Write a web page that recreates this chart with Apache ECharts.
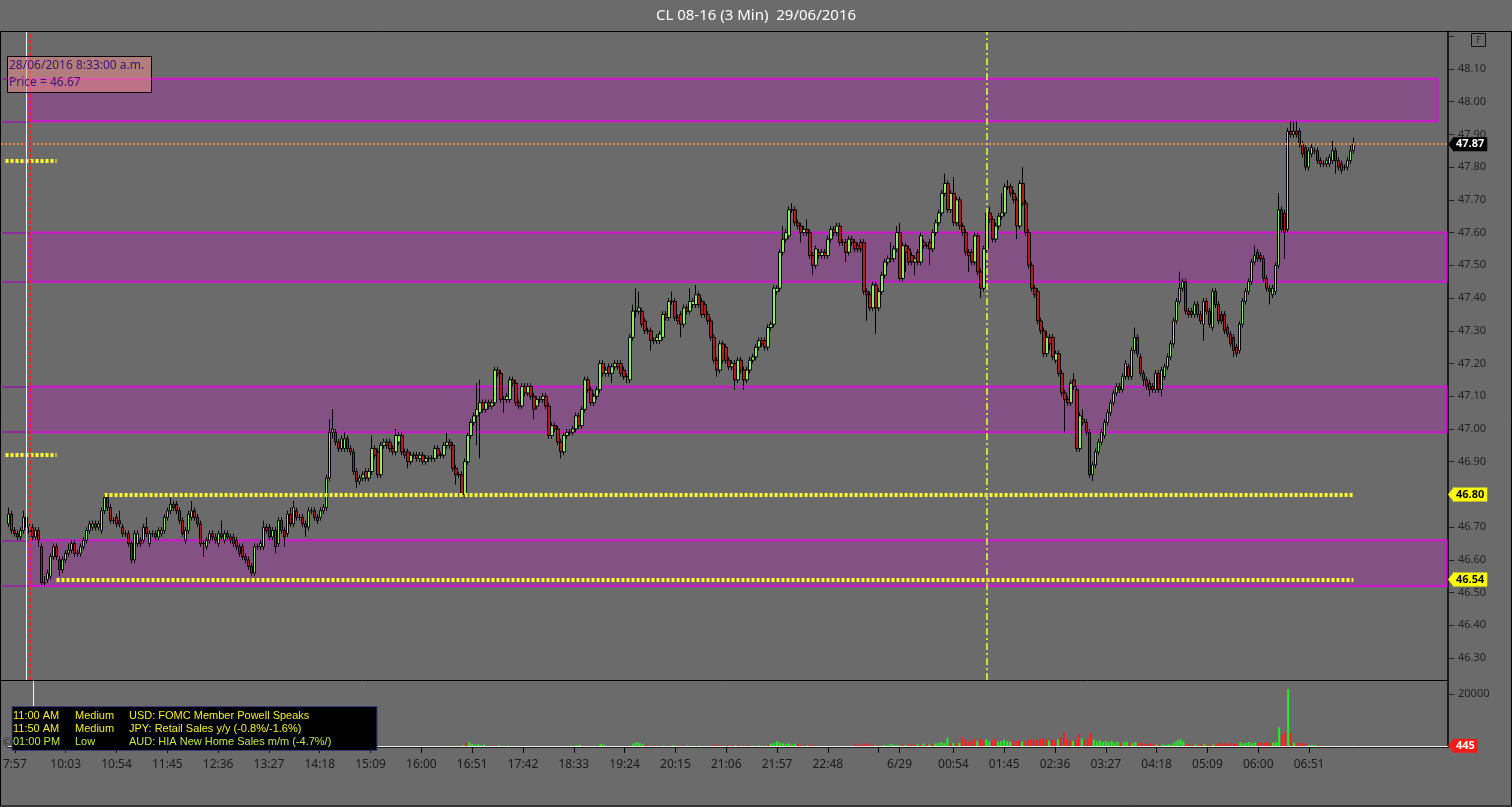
<!DOCTYPE html>
<html><head><meta charset="utf-8">
<script src="https://cdn.jsdelivr.net/npm/echarts@6/dist/echarts.min.js"></script>
<style>html,body{margin:0;padding:0;background:#6b6b6b;}#c{width:1512px;height:807px;}</style>
</head><body><div id="c"></div>
<script>
const TITLE = 'CL 08-16 (3 Min)  29/06/2016';
const CAT_COUNT = 482;
const DATA_START = 2;
// [open, close, low, high] for bars 2..450
const ohlc = [
[46.71,46.74,46.70,46.76],[46.74,46.69,46.68,46.75],[46.69,46.68,46.67,46.70],[46.68,46.67,46.66,46.69],[46.67,46.69,46.66,46.70],
[46.69,46.73,46.68,46.75],[46.73,46.70,46.69,46.74],[46.70,46.68,46.67,46.71],[46.70,46.67,46.66,46.71],[46.67,46.69,46.66,46.70],
[46.69,46.66,46.64,46.70],[46.64,46.53,46.52,46.65],[46.53,46.53,46.52,46.55],[46.54,46.56,46.53,46.57],[46.55,46.61,46.54,46.62],
[46.61,46.64,46.60,46.65],[46.64,46.61,46.60,46.65],[46.60,46.57,46.55,46.61],[46.57,46.60,46.56,46.61],[46.60,46.62,46.59,46.63],
[46.62,46.63,46.61,46.65],[46.63,46.65,46.62,46.66],[46.65,46.62,46.61,46.66],[46.62,46.62,46.61,46.63],[46.62,46.64,46.61,46.65],
[46.64,46.66,46.63,46.67],[46.66,46.69,46.65,46.70],[46.69,46.71,46.68,46.72],[46.70,46.71,46.69,46.72],[46.71,46.70,46.69,46.72],
[46.70,46.71,46.69,46.72],[46.69,46.75,46.68,46.76],[46.75,46.79,46.74,46.80],[46.79,46.76,46.75,46.80],[46.76,46.72,46.71,46.77],
[46.72,46.72,46.71,46.73],[46.73,46.71,46.70,46.74],[46.72,46.71,46.70,46.75],[46.70,46.68,46.67,46.71],[46.68,46.68,46.67,46.69],
[46.68,46.65,46.64,46.69],[46.65,46.60,46.59,46.66],[46.60,46.68,46.59,46.69],[46.65,46.68,46.64,46.69],[46.66,46.65,46.64,46.67],
[46.66,46.70,46.65,46.71],[46.70,46.68,46.67,46.73],[46.65,46.68,46.64,46.69],[46.68,46.68,46.67,46.69],[46.68,46.67,46.66,46.69],
[46.67,46.69,46.66,46.70],[46.68,46.69,46.67,46.70],[46.69,46.73,46.68,46.74],[46.73,46.75,46.72,46.76],[46.75,46.77,46.74,46.79],
[46.77,46.76,46.75,46.78],[46.77,46.75,46.74,46.78],[46.75,46.72,46.71,46.76],[46.72,46.68,46.67,46.73],[46.66,46.69,46.65,46.70],
[46.69,46.74,46.68,46.75],[46.73,46.75,46.72,46.78],[46.75,46.73,46.72,46.76],[46.73,46.71,46.70,46.74],[46.71,46.65,46.64,46.72],
[46.65,46.65,46.61,46.66],[46.64,46.66,46.63,46.67],[46.66,46.68,46.65,46.69],[46.68,46.67,46.66,46.69],[46.67,46.66,46.65,46.68],
[46.65,46.68,46.64,46.69],[46.68,46.67,46.66,46.72],[46.66,46.68,46.65,46.69],[46.68,46.67,46.66,46.69],[46.67,46.66,46.65,46.68],
[46.67,46.65,46.64,46.68],[46.66,46.64,46.63,46.67],[46.64,46.62,46.61,46.65],[46.64,46.61,46.60,46.65],[46.61,46.60,46.59,46.62],
[46.60,46.58,46.57,46.61],[46.58,46.56,46.55,46.59],[46.56,46.64,46.55,46.65],[46.64,46.64,46.63,46.65],[46.64,46.65,46.63,46.66],
[46.64,46.70,46.63,46.72],[46.70,46.69,46.68,46.71],[46.70,46.67,46.66,46.71],[46.67,46.69,46.66,46.70],[46.69,46.64,46.62,46.70],
[46.65,46.72,46.64,46.73],[46.72,46.69,46.68,46.73],[46.69,46.67,46.64,46.70],[46.68,46.74,46.67,46.75],[46.74,46.71,46.70,46.76],
[46.71,46.76,46.70,46.78],[46.75,46.73,46.72,46.76],[46.73,46.73,46.72,46.74],[46.73,46.71,46.70,46.74],[46.71,46.70,46.67,46.72],
[46.70,46.75,46.69,46.76],[46.75,46.75,46.74,46.76],[46.75,46.73,46.72,46.76],[46.73,46.72,46.71,46.74],[46.73,46.75,46.72,46.76],
[46.75,46.76,46.74,46.77],[46.76,46.85,46.75,46.86],[46.85,46.99,46.84,47.03],[46.99,47.00,46.97,47.06],[46.99,46.96,46.95,47.00],
[46.96,46.94,46.93,46.97],[46.94,46.97,46.93,46.98],[46.94,46.97,46.93,46.99],[46.97,46.94,46.93,46.98],[46.94,46.93,46.92,46.95],
[46.93,46.87,46.86,46.94],[46.87,46.84,46.82,46.88],[46.84,46.85,46.83,46.86],[46.85,46.86,46.84,46.87],[46.87,46.85,46.84,46.88],
[46.85,46.87,46.84,46.88],[46.87,46.94,46.86,46.98],[46.94,46.92,46.91,46.95],[46.93,46.86,46.85,46.94],[46.86,46.95,46.85,46.96],
[46.95,46.96,46.94,46.97],[46.96,46.95,46.94,46.97],[46.96,46.94,46.93,46.97],[46.94,46.93,46.92,46.95],[46.93,46.98,46.92,47.00],
[46.96,46.98,46.95,46.99],[46.98,46.93,46.92,46.99],[46.93,46.92,46.91,46.94],[46.93,46.90,46.88,46.94],[46.90,46.92,46.89,46.93],
[46.92,46.92,46.91,46.93],[46.92,46.91,46.90,46.93],[46.91,46.92,46.90,46.93],[46.92,46.90,46.89,46.93],[46.90,46.91,46.89,46.92],
[46.91,46.91,46.90,46.92],[46.91,46.91,46.90,46.92],[46.91,46.94,46.90,46.95],[46.94,46.92,46.91,46.95],[46.92,46.92,46.91,46.93],
[46.92,46.95,46.91,46.96],[46.95,46.96,46.94,46.99],[46.96,46.95,46.94,46.97],[46.95,46.88,46.87,46.96],[46.88,46.86,46.83,46.89],
[46.86,46.86,46.85,46.87],[46.86,46.80,46.79,46.87],[46.80,46.90,46.79,46.91],[46.90,46.98,46.89,46.99],[46.98,47.02,46.97,47.03],
[47.02,47.04,47.01,47.05],[47.04,47.06,46.95,47.14],[47.05,47.08,46.91,47.15],[47.08,47.06,47.05,47.09],[47.06,47.08,47.05,47.09],
[47.08,47.07,47.06,47.09],[47.07,47.08,47.06,47.09],[47.08,47.18,47.07,47.19],[47.18,47.17,47.16,47.19],[47.17,47.09,47.08,47.18],
[47.09,47.09,47.05,47.10],[47.09,47.10,47.08,47.11],[47.09,47.15,47.08,47.16],[47.15,47.14,47.13,47.16],[47.14,47.08,47.07,47.15],
[47.08,47.07,47.06,47.09],[47.07,47.13,47.06,47.14],[47.13,47.11,47.10,47.14],[47.11,47.13,47.10,47.14],[47.13,47.10,47.09,47.14],
[47.10,47.06,47.03,47.11],[47.07,47.09,47.06,47.10],[47.09,47.09,47.08,47.10],[47.09,47.10,47.08,47.11],[47.10,47.07,47.06,47.11],
[47.07,46.98,46.97,47.08],[46.98,47.01,46.97,47.02],[47.01,47.00,46.99,47.02],[47.00,46.96,46.95,47.01],[46.96,46.93,46.91,46.97],
[46.93,46.98,46.92,46.99],[46.98,46.99,46.97,47.00],[46.99,46.99,46.98,47.00],[46.99,47.00,46.98,47.01],[47.00,47.04,46.99,47.05],
[47.04,47.01,47.00,47.05],[47.01,47.06,47.00,47.07],[47.06,47.15,47.05,47.16],[47.15,47.12,47.11,47.16],[47.12,47.08,47.07,47.13],
[47.08,47.10,47.07,47.11],[47.10,47.12,47.09,47.13],[47.12,47.20,47.11,47.21],[47.20,47.17,47.16,47.21],[47.17,47.18,47.16,47.19],
[47.19,47.17,47.16,47.20],[47.17,47.19,47.14,47.20],[47.19,47.20,47.18,47.21],[47.20,47.19,47.18,47.21],[47.20,47.17,47.16,47.21],
[47.18,47.16,47.15,47.19],[47.16,47.16,47.14,47.17],[47.15,47.28,47.14,47.29],[47.28,47.36,47.27,47.38],[47.36,47.36,47.34,47.43],
[47.36,47.37,47.35,47.42],[47.36,47.32,47.31,47.37],[47.33,47.30,47.29,47.34],[47.30,47.30,47.29,47.31],[47.30,47.27,47.24,47.31],
[47.27,47.27,47.26,47.28],[47.27,47.28,47.26,47.29],[47.27,47.29,47.26,47.30],[47.28,47.35,47.27,47.36],[47.35,47.34,47.33,47.36],
[47.34,47.39,47.33,47.40],[47.39,47.39,47.38,47.42],[47.39,47.34,47.33,47.40],[47.34,47.33,47.32,47.35],[47.35,47.32,47.28,47.36],
[47.32,47.37,47.31,47.38],[47.37,47.36,47.35,47.38],[47.36,47.39,47.35,47.43],[47.38,47.39,47.37,47.40],[47.38,47.41,47.37,47.44],
[47.41,47.38,47.37,47.42],[47.39,47.35,47.34,47.40],[47.38,47.35,47.34,47.39],[47.35,47.33,47.32,47.36],[47.33,47.28,47.27,47.34],
[47.28,47.21,47.20,47.29],[47.21,47.18,47.16,47.22],[47.18,47.26,47.17,47.27],[47.26,47.21,47.20,47.27],[47.25,47.21,47.20,47.26],
[47.21,47.19,47.18,47.22],[47.19,47.20,47.18,47.21],[47.20,47.15,47.12,47.21],[47.15,47.21,47.14,47.22],[47.21,47.18,47.17,47.22],
[47.18,47.15,47.12,47.19],[47.15,47.18,47.14,47.19],[47.18,47.21,47.17,47.22],[47.21,47.22,47.20,47.23],[47.22,47.25,47.21,47.26],
[47.25,47.27,47.24,47.28],[47.27,47.26,47.25,47.28],[47.27,47.25,47.24,47.28],[47.25,47.31,47.24,47.32],[47.31,47.32,47.30,47.33],
[47.32,47.43,47.31,47.44],[47.42,47.43,47.41,47.44],[47.43,47.54,47.42,47.55],[47.54,47.58,47.53,47.62],[47.58,47.60,47.57,47.61],
[47.59,47.67,47.58,47.68],[47.67,47.67,47.66,47.69],[47.67,47.63,47.62,47.68],[47.63,47.62,47.61,47.64],[47.62,47.60,47.57,47.63],
[47.60,47.61,47.59,47.62],[47.61,47.60,47.59,47.64],[47.60,47.53,47.52,47.61],[47.53,47.50,47.47,47.54],[47.50,47.55,47.49,47.56],
[47.54,47.53,47.52,47.55],[47.53,47.54,47.52,47.55],[47.54,47.53,47.52,47.55],[47.53,47.58,47.52,47.59],[47.58,47.61,47.57,47.62],
[47.61,47.60,47.59,47.62],[47.60,47.62,47.59,47.63],[47.62,47.57,47.56,47.63],[47.57,47.57,47.56,47.58],[47.57,47.54,47.51,47.58],
[47.54,47.58,47.53,47.59],[47.58,47.57,47.56,47.59],[47.57,47.55,47.54,47.58],[47.56,47.55,47.54,47.57],[47.57,47.55,47.54,47.58],
[47.57,47.42,47.41,47.58],[47.42,47.41,47.33,47.43],[47.41,47.37,47.36,47.42],[47.37,47.44,47.36,47.45],[47.44,47.37,47.29,47.45],
[47.37,47.42,47.36,47.43],[47.42,47.47,47.41,47.48],[47.47,47.51,47.46,47.52],[47.51,47.52,47.50,47.53],[47.52,47.52,47.51,47.57],
[47.52,47.55,47.51,47.56],[47.55,47.60,47.54,47.62],[47.60,47.46,47.45,47.63],[47.46,47.56,47.45,47.57],[47.56,47.54,47.48,47.57],
[47.55,47.51,47.50,47.56],[47.53,47.51,47.50,47.54],[47.51,47.52,47.47,47.53],[47.54,47.51,47.50,47.55],[47.51,47.59,47.50,47.60],
[47.57,47.56,47.55,47.58],[47.56,47.56,47.55,47.57],[47.57,47.55,47.50,47.58],[47.55,47.60,47.54,47.61],[47.60,47.63,47.59,47.64],
[47.63,47.66,47.62,47.67],[47.66,47.72,47.65,47.73],[47.72,47.75,47.71,47.78],[47.75,47.67,47.66,47.76],[47.67,47.72,47.66,47.73],
[47.72,47.63,47.62,47.77],[47.63,47.70,47.62,47.71],[47.70,47.62,47.61,47.71],[47.62,47.60,47.59,47.63],[47.60,47.54,47.53,47.61],
[47.54,47.53,47.48,47.55],[47.54,47.51,47.50,47.55],[47.51,47.59,47.50,47.60],[47.59,47.48,47.47,47.60],[47.48,47.43,47.40,47.49],
[47.43,47.55,47.42,47.56],[47.55,47.66,47.54,47.67],[47.66,47.64,47.63,47.68],[47.64,47.58,47.57,47.65],[47.58,47.62,47.57,47.63],
[47.62,47.65,47.61,47.66],[47.65,47.66,47.64,47.72],[47.66,47.74,47.65,47.75],[47.74,47.74,47.73,47.76],[47.74,47.72,47.71,47.75],
[47.72,47.70,47.69,47.73],[47.70,47.62,47.58,47.71],[47.62,47.75,47.61,47.76],[47.75,47.69,47.68,47.80],[47.69,47.60,47.59,47.70],
[47.60,47.50,47.49,47.61],[47.50,47.43,47.42,47.51],[47.43,47.41,47.40,47.44],[47.42,47.33,47.32,47.43],[47.33,47.30,47.29,47.34],
[47.30,47.23,47.22,47.31],[47.23,47.28,47.22,47.30],[47.28,47.26,47.24,47.29],[47.28,47.22,47.21,47.29],[47.21,47.23,47.20,47.24],
[47.23,47.17,47.16,47.24],[47.17,47.11,47.10,47.18],[47.11,47.09,46.99,47.12],[47.09,47.08,47.07,47.10],[47.08,47.14,47.07,47.15],
[47.15,47.13,47.12,47.17],[47.12,46.94,46.93,47.13],[46.94,47.04,46.93,47.05],[47.03,47.02,47.01,47.06],[47.02,46.99,46.98,47.03],
[46.99,46.86,46.85,47.00],[46.86,46.89,46.84,46.90],[46.89,46.93,46.88,46.94],[46.93,46.96,46.92,46.97],[46.96,46.99,46.95,47.00],
[46.98,47.02,46.97,47.03],[47.02,47.05,47.01,47.06],[47.05,47.08,47.04,47.09],[47.08,47.11,47.07,47.12],[47.11,47.13,47.10,47.14],
[47.13,47.12,47.11,47.14],[47.12,47.16,47.11,47.17],[47.16,47.20,47.15,47.21],[47.19,47.16,47.15,47.20],[47.16,47.24,47.15,47.25],
[47.24,47.28,47.23,47.31],[47.28,47.23,47.22,47.29],[47.22,47.17,47.16,47.23],[47.17,47.15,47.13,47.18],[47.15,47.13,47.12,47.16],
[47.14,47.12,47.10,47.15],[47.13,47.12,47.11,47.14],[47.12,47.17,47.11,47.18],[47.17,47.12,47.11,47.18],[47.12,47.18,47.10,47.19],
[47.16,47.19,47.15,47.20],[47.19,47.22,47.18,47.23],[47.22,47.26,47.21,47.27],[47.26,47.33,47.25,47.34],[47.33,47.39,47.32,47.40],
[47.39,47.43,47.38,47.48],[47.43,47.45,47.42,47.46],[47.45,47.36,47.35,47.46],[47.36,47.35,47.34,47.37],[47.36,47.35,47.34,47.37],
[47.35,47.38,47.34,47.39],[47.38,47.35,47.34,47.39],[47.35,47.33,47.32,47.36],[47.32,47.39,47.27,47.40],[47.39,47.36,47.35,47.40],
[47.36,47.32,47.31,47.37],[47.31,47.42,47.30,47.43],[47.42,47.38,47.37,47.43],[47.38,47.33,47.32,47.39],[47.35,47.33,47.32,47.36],
[47.35,47.30,47.29,47.36],[47.31,47.29,47.28,47.32],[47.29,47.26,47.25,47.30],[47.28,47.24,47.22,47.29],[47.25,47.23,47.22,47.26],
[47.24,47.32,47.23,47.33],[47.32,47.39,47.31,47.40],[47.39,47.42,47.38,47.43],[47.42,47.45,47.41,47.46],[47.45,47.51,47.44,47.52],
[47.51,47.53,47.50,47.56],[47.54,47.52,47.51,47.55],[47.53,47.52,47.51,47.54],[47.52,47.46,47.45,47.53],[47.46,47.43,47.42,47.47],
[47.43,47.42,47.38,47.44],[47.41,47.43,47.40,47.44],[47.42,47.50,47.41,47.51],[47.50,47.67,47.49,47.72],[47.67,47.61,47.60,47.68],
[47.66,47.60,47.52,47.67],[47.61,47.91,47.60,47.92],[47.91,47.90,47.89,47.94],[47.90,47.91,47.89,47.94],[47.91,47.90,47.89,47.94],
[47.91,47.87,47.86,47.92],[47.87,47.84,47.83,47.88],[47.86,47.80,47.79,47.87],[47.80,47.85,47.79,47.86],[47.84,47.86,47.83,47.87],
[47.85,47.85,47.84,47.86],[47.85,47.82,47.81,47.86],[47.82,47.81,47.80,47.83],[47.81,47.81,47.80,47.82],[47.81,47.82,47.80,47.83],
[47.81,47.83,47.80,47.84],[47.82,47.85,47.81,47.88],[47.85,47.82,47.78,47.86],[47.82,47.80,47.79,47.83],[47.81,47.79,47.78,47.82],
[47.80,47.80,47.79,47.81],[47.80,47.82,47.79,47.83],[47.82,47.85,47.81,47.87],[47.85,47.87,47.84,47.89]
];
// volumes for bars 152..450
const VOL_START = 152;
const volumes = [
760,1500,1900,1200,800,1100,600,900,500,400,
600,300,700,400,300,500,300,200,400,300,
200,300,200,400,200,300,200,300,400,200,
300,200,400,300,200,300,500,400,700,800,
600,300,400,300,200,400,1100,900,400,300,
350,200,300,350,200,300,400,1300,1900,1600,
1100,700,600,500,700,400,300,500,400,600,
700,500,600,400,500,600,300,400,300,500,
400,300,300,500,700,800,700,300,200,300,
750,600,800,400,300,700,400,500,400,600,
500,400,700,1200,1500,2200,1700,1400,1100,1500,
900,1200,1000,800,700,600,900,700,600,300,
400,200,300,200,250,200,300,200,250,200,
300,900,1300,800,1100,1500,900,800,600,700,
500,700,600,1100,900,700,600,1000,800,1100,
900,800,1000,900,1200,800,900,1100,1200,1600,
1900,1400,3400,1200,1500,1300,1500,3800,2800,1900,
2400,3000,2200,3200,2600,2900,2100,2500,3100,2000,
2300,2700,2200,2000,2600,2200,2500,2000,2300,2800,
3000,2400,2700,3100,3300,2900,2300,2700,2500,2900,
3600,5600,3100,2400,2200,2800,4900,3300,2600,3400,
5300,2900,2100,2400,2000,2300,1900,2200,1700,2000,
1500,1800,2100,1600,1400,1900,1700,1500,1200,1100,
1400,1200,900,800,1000,750,1100,900,1900,2500,
3000,2200,1100,900,800,1000,750,900,1100,800,
900,1000,1200,1500,1100,1700,1300,1600,1200,1400,
1800,1300,1500,1900,1400,1700,1500,1800,1600,1900,
1500,1700,1800,7500,4500,5600,21900,5300,1500,1400,
1600,1500,1300,800,750,700,600,300,200,250,
300,400,300,200,250,300,350,400,445
];
const priceTicks = [46.3,46.4,46.5,46.6,46.7,46.8,46.9,47.0,47.1,47.2,47.3,47.4,47.5,47.6,47.7,47.8,47.9,48.0,48.1];
const volTicks = [20000];
// time-axis ticks (day + time); the 23:39 tick carries no label, midnight is shown as the date
const tickTimes = ['28 07:57','28 10:03','28 10:54','28 11:45','28 12:36','28 13:27','28 14:18','28 15:09','28 16:00',
  '28 16:51','28 17:42','28 18:33','28 19:24','28 20:15','28 21:06','28 21:57','28 22:48','28 23:39',
  '29 00:00','29 00:54','29 01:45','29 02:36','29 03:27','29 04:18','29 05:09','29 06:00','29 06:51'];
const unlabeledTicks = ['28 23:39'];
const tickText = { '28 07:57': '7:57', '29 00:00': '6/29' };
// zones: [top, bottom, lastIndex]
const zones = [[48.07,47.94,478],[47.60,47.45,481],[47.13,46.99,481],[46.66,46.52,481]];
const lastPrice = 47.87;
const lastVolume = 445;
// yellow level lines: [price, fromIndex, toIndex, tagged]
const levels = [[46.80,34,450,true],[46.54,18,450,true],[47.82,1,18,false],[46.92,1,18,false]];
const news = [
  ['11:00 AM','Medium','USD: FOMC Member Powell Speaks','#f2ee22'],
  ['11:50 AM','Medium','JPY: Retail Sales y/y (-0.8%/-1.6%)','#f2ee22'],
  ['01:00 PM','Low','AUD: HIA New Home Sales m/m (-4.7%/)','#bfe64a']
];
const cursorText = ['28/06/2016 8:33:00 a.m.','Price = 46.67'];

function hhmm(m){ const d = m >= 1440 ? '29' : '28'; m = m % 1440; return d + ' ' + String(Math.floor(m/60)).padStart(2,'0') + ':' + String(m%60).padStart(2,'0'); }
const cats = [];
for (let i = 0; i < CAT_COUNT; i++) cats.push(i < 10 ? hhmm(471 + 3*i) : hhmm(603 + 3*(i-19)));
const tickIdx = new Set(tickTimes.map(t => cats.indexOf(t)));
const labelIdx = new Set(tickTimes.filter(t => unlabeledTicks.indexOf(t) < 0).map(t => cats.indexOf(t)));

const candleData = [];
for (let i = 0; i < DATA_START; i++) candleData.push('-');
ohlc.forEach(r => candleData.push(r));
const volData = volumes.map((v, k) => [k + VOL_START, v]);

const FONT = '"Noto Sans", "Open Sans", sans-serif';
const tag = (bg, fg) => ({ show: true, position: 'end', distance: 5, color: fg, backgroundColor: bg,
  padding: [2, 3, 1, 3], fontSize: 11, fontFamily: FONT, fontWeight: 'bold' });
const HIDDEN_LINE = { color: 'rgba(0,0,0,0)', width: 0 };

const markLines = [];
markLines.push({ yAxis: lastPrice, lineStyle: { color: '#e8913c', type: 'dotted', width: 2 }, label: Object.assign(tag('#000', '#fff'), { formatter: lastPrice.toFixed(2) }) });
levels.forEach(l => {
  markLines.push([{ coord: [l[1], l[0]], lineStyle: { color: '#ffff2a', width: 4, type: [3, 2] } }, { coord: [l[2], l[0]] }]);
  if (l[3]) markLines.push({ yAxis: l[0], lineStyle: HIDDEN_LINE, label: Object.assign(tag('#ffff00', '#000'), { formatter: l[0].toFixed(2) }) });
});
zones.forEach(z => {
  [z[0], z[1]].forEach(p => markLines.push([{ coord: [0, p], lineStyle: { color: '#8e2c9c', width: 2, type: 'solid' } }, { coord: [9, p] }]));
});
markLines.push({ xAxis: 8, lineStyle: { color: '#f4f4f4', width: 1, type: 'solid' } });
markLines.push({ xAxis: 9, lineStyle: { color: '#ff2222', width: 2, type: [4, 2] } });
markLines.push({ xAxis: 328, lineStyle: { color: '#bfe040', width: 2, type: [7, 3, 2, 3] } });

const staticGraphic = [
  { type: 'rect', z: 100, shape: { x: 0.5, y: 31.5, width: 1511, height: 774.5 }, style: { fill: 'none', stroke: '#000', lineWidth: 1 } },
  { type: 'text', z: 100, x: 756, y: 16, style: { text: TITLE, fill: '#fff', font: '15px ' + FONT, textAlign: 'center', textVerticalAlign: 'middle' } },
  { type: 'rect', z: 100, shape: { x: 1471.5, y: 33.5, width: 14, height: 13 }, style: { fill: 'none', stroke: '#111', lineWidth: 1 } },
  { type: 'text', z: 100, x: 1478.5, y: 40.5, style: { text: 'F', fill: '#222', font: '9px ' + FONT, textAlign: 'center', textVerticalAlign: 'middle' } },
  { type: 'rect', z: 100, shape: { x: 7.5, y: 56.5, width: 144, height: 36 }, style: { fill: 'rgba(235,140,140,0.55)', stroke: '#000', lineWidth: 1 } },
  { type: 'text', z: 101, x: 9, y: 66, style: { text: cursorText[0], fill: '#3a1670', font: '12px ' + FONT, textVerticalAlign: 'middle' } },
  { type: 'text', z: 101, x: 9, y: 83, style: { text: cursorText[1], fill: '#3a1670', font: '12px ' + FONT, textVerticalAlign: 'middle' } },
  { type: 'rect', z: 100, shape: { x: 12, y: 706.5, width: 365, height: 44 }, style: { fill: '#000', stroke: '#3a3a7a', lineWidth: 1 } },
  { type: 'text', z: 101, x: 3, y: 743, style: { text: '©', fill: '#2a2a2a', font: '10px ' + FONT, textVerticalAlign: 'middle' } }
].concat(...news.map((n, k) => [
  { type: 'text', z: 101, x: 13, y: 716 + 13 * k, style: { text: n[0], fill: n[3], font: '11px "Liberation Sans", Arial, sans-serif', textVerticalAlign: 'middle' } },
  { type: 'text', z: 101, x: 75, y: 716 + 13 * k, style: { text: n[1], fill: n[3], font: '11px "Liberation Sans", Arial, sans-serif', textVerticalAlign: 'middle' } },
  { type: 'text', z: 101, x: 129, y: 716 + 13 * k, style: { text: n[2], fill: n[3], font: '11px "Liberation Sans", Arial, sans-serif', textVerticalAlign: 'middle' } }
])).map((g, k) => Object.assign({ id: 'static' + k }, g));

const option = {
  animation: false,
  backgroundColor: '#6b6b6b',
  textStyle: { fontFamily: FONT },
  grid: [
    { left: 1, right: 64, top: 31, bottom: 127 },
    { left: 1, right: 64, top: 681, bottom: 60 }
  ],
  xAxis: [
    { type: 'category', gridIndex: 0, data: cats, boundaryGap: true,
      axisLine: { show: true, lineStyle: { color: '#000', width: 1 } },
      axisTick: { show: false }, axisLabel: { show: false }, splitLine: { show: false } },
    { type: 'category', gridIndex: 1, data: cats, boundaryGap: true, offset: 4,
      axisLine: { show: true, lineStyle: { color: '#000', width: 1.5 } },
      axisTick: { show: true, alignWithLabel: true, length: 6, lineStyle: { color: '#000' },
        interval: i => tickIdx.has(i) },
      axisLabel: { show: true, color: '#1a1a1a', fontSize: 12, margin: 8, fontFamily: FONT,
        interval: i => labelIdx.has(i),
        formatter: v => tickText[v] || v.slice(3) },
      splitLine: { show: false } }
  ],
  yAxis: [
    { type: 'value', gridIndex: 0, position: 'right', min: 46.233, max: 48.216, scale: true,
      axisLine: { show: true, lineStyle: { color: '#000', width: 1.5 } },
      axisTick: { show: true, length: 6, lineStyle: { color: '#222' }, customValues: priceTicks.concat([48.2]) },
      axisLabel: { show: true, color: '#222', fontSize: 11, margin: 10, fontFamily: FONT,
        customValues: priceTicks, formatter: v => v.toFixed(2) },
      splitLine: { show: false } },
    { type: 'value', gridIndex: 1, position: 'right', min: 0, max: 25000,
      axisLine: { show: true, lineStyle: { color: '#000', width: 1.5 } },
      axisTick: { show: true, length: 6, lineStyle: { color: '#222' }, customValues: volTicks },
      axisLabel: { show: true, color: '#222', fontSize: 11, margin: 10, fontFamily: FONT, customValues: volTicks,
        formatter: v => String(v) },
      splitLine: { show: false } }
  ],
  series: [
    { type: 'candlestick', xAxisIndex: 0, yAxisIndex: 0, data: candleData, barWidth: 3,
      itemStyle: { color: '#8ef05a', color0: '#b01c1c', borderColor: '#000', borderColor0: '#000', borderWidth: 1 },
      markArea: { silent: true,
        itemStyle: { color: 'rgba(170,40,170,0.38)', borderColor: '#d414d4', borderWidth: 2 },
        data: zones.map(z => [{ xAxis: 9, yAxis: z[0] }, { xAxis: z[2], yAxis: z[1] }]) },
      markLine: { silent: true, symbol: ['none', 'none'], label: { show: false }, data: markLines }
    },
    { type: 'bar', xAxisIndex: 1, yAxisIndex: 1, data: volData, barWidth: 2,
      itemStyle: { color: p => { const r = candleData[p.data[0]]; return (r !== '-' && r[1] >= r[0]) ? '#22f022' : '#ff2222'; } },
      markLine: { silent: true, symbol: ['none', 'none'],
        data: [
          { yAxis: lastVolume, lineStyle: { color: '#eeeeee', width: 1, type: 'solid' }, label: Object.assign(tag('#ff1a1a', '#fff'), { formatter: String(lastVolume) }) },
          { xAxis: 8, lineStyle: { color: '#f4f4f4', width: 1, type: 'solid' }, label: { show: false } }
        ] }
    }
  ],
  graphic: staticGraphic
};
const chart = echarts.init(document.getElementById('c'), null, { renderer: 'canvas' });
chart.setOption(option);

// left-pointing arrow heads for the value tags, placed through the axes' own scales
const arrowTags = [[0, lastPrice, '#000'], [0, levels[0][0], '#ffff00'], [0, levels[1][0], '#ffff00'], [1, lastVolume, '#ff1a1a']];
const axisX = chart.convertToPixel({ xAxisIndex: 0 }, CAT_COUNT - 1) + 1.5;
chart.setOption({ graphic: arrowTags.map((a, k) => {
  const y = chart.convertToPixel({ yAxisIndex: a[0] }, a[1]);
  return { id: 'arrow' + k, type: 'polygon', z: 100, shape: { points: [[axisX, y], [axisX + 6, y - 7.5], [axisX + 6, y + 7.5]] }, style: { fill: a[2] } };
}) });
</script>
</body></html>
